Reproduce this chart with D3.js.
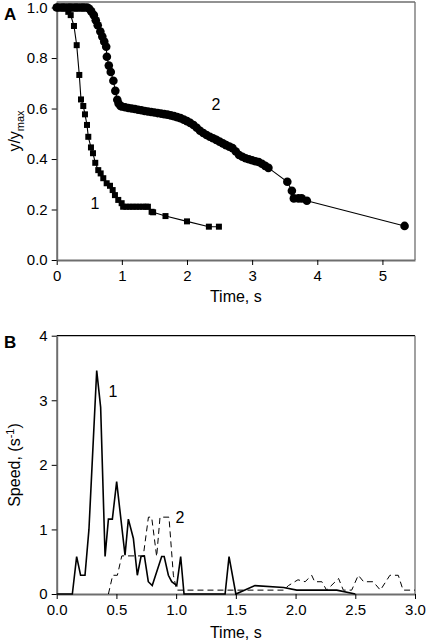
<!DOCTYPE html>
<html><head><meta charset="utf-8">
<script src="https://cdn.jsdelivr.net/npm/d3@7"></script>
<style>
html,body{margin:0;padding:0;background:#fff;}
svg{display:block;font-family:"Liberation Sans",Arial,sans-serif;}
</style></head><body>
<svg id="c" width="427" height="642"></svg>
<script>
// ---------- Panel A data ----------
const a1Time = [0,0.03,0.07,0.10,0.13,0.178,0.215,0.265,0.307,0.347,0.373,0.408,0.434,0.465,0.485,0.526,0.557,0.592,0.638,0.675,0.715,0.767,0.818,0.859,0.894,0.945,0.997,1.02,1.07,1.12,1.17,1.22,1.27,1.32,1.37,1.40,1.457,1.48,1.67,2.0,2.336,2.49];
const a1Val  = [1,1,1,1,1,0.983,0.97,0.927,0.851,0.733,0.636,0.610,0.577,0.535,0.488,0.446,0.423,0.385,0.356,0.343,0.324,0.304,0.294,0.277,0.257,0.238,0.225,0.211,0.211,0.211,0.211,0.211,0.211,0.211,0.211,0.211,0.191,0.189,0.174,0.153,0.132,0.132];

const a2Time = [0,0.03,0.07,0.10,0.13,0.17,0.20,0.23,0.27,0.30,0.33,0.37,0.40,0.43,0.47,0.50,0.53,0.57,0.60,0.63,0.67,0.70,0.73,0.76,0.77,0.80,0.83,0.87,0.90,0.93,0.95,0.98,
  1.00,1.05,1.10,1.15,1.20,1.25,1.30,1.35,1.40,1.45,1.50,1.55,1.60,1.65,1.70,1.75,1.80,1.85,1.90,1.95,2.00,2.05,2.10,2.15,2.20,2.25,2.30,2.35,2.40,2.45,2.50,2.55,2.60,2.65,2.70,2.75,2.80,2.85,2.90,2.95,3.00,3.05,3.10,3.15,3.20,3.25,
  3.54,3.61,3.64,3.71,3.76,3.84,5.34];
const a2Val  = [1,1,1,1,1,1,1,1,1,1,1,1,1,1,1,0.995,0.985,0.97,0.95,0.93,0.905,0.885,0.865,0.845,0.805,0.77,0.745,0.71,0.67,0.635,0.62,0.61,
  0.608,0.605,0.602,0.600,0.598,0.595,0.593,0.590,0.588,0.586,0.584,0.582,0.580,0.578,0.576,0.573,0.570,0.566,0.562,0.556,0.550,0.543,0.535,0.524,0.512,0.503,0.495,0.488,0.482,0.476,0.469,0.462,0.455,0.449,0.443,0.430,0.416,0.409,0.403,0.399,0.395,0.391,0.388,0.381,0.373,0.365,
  0.310,0.274,0.244,0.244,0.244,0.235,0.135];

const aXTicks = [0,1,2,3,4,5];
const aYTicks = [0,0.2,0.4,0.6,0.8,1.0];

// ---------- Panel B data ----------
const b1Time = [0,0.131,0.167,0.20,0.237,0.27,0.335,0.368,0.405,0.433,0.466,0.502,0.572,0.60,0.642,0.675,0.706,0.734,0.767,0.80,0.879,0.90,0.935,0.963,1.005,1.038,1.066,1.41,1.443,1.50,1.66,1.90,2.01,2.345,2.50];
const b1Val  = [0,0,0.58,0.29,0.29,1.0,3.46,2.89,0.58,1.16,1.16,1.74,0.60,1.16,0.86,0.29,0.58,0.59,0.19,0.13,0.58,0.58,0.29,0.19,0.13,0.58,0,0,0.58,0,0.13,0.10,0.06,0.06,0];

const b2Time = [0.433,0.469,0.508,0.545,0.725,0.768,0.795,0.837,0.865,0.94,0.977,1.005,1.90,1.94,2.02,2.08,2.135,2.16,2.22,2.26,2.36,2.40,2.47,2.525,2.57,2.65,2.71,2.79,2.86,2.90,3.0];
const b2Val  = [0,0.29,0.29,0.59,0.59,1.19,1.19,0.58,1.19,1.19,0.29,0.06,0.06,0.13,0.22,0.19,0.29,0.19,0.19,0.06,0.24,0.06,0.06,0.29,0.19,0.19,0.06,0.29,0.29,0.06,0.06];

const bXTicks = [0,0.5,1.0,1.5,2.0,2.5,3.0];
const bYTicks = [0,1,2,3,4];

// ---------- drawing ----------
const svg = d3.select("#c");
const L = 56.7, R = 415;
const axisCol = "#6e6e6e";

function styleAxis(g){
  g.selectAll("text").attr("font-size",15).attr("fill","#000").attr("font-family","Liberation Sans, Arial, sans-serif");
  g.selectAll("line").attr("stroke","#000");
  g.select(".domain").attr("stroke",axisCol).attr("stroke-width",2);
}

// Panel A
const xA = d3.scaleLinear().domain([0,5.5]).range([L,R]);
const yA = d3.scaleLinear().domain([0,1.022]).range([260,2]);

const gA = svg.append("g");
gA.append("line").attr("x1",L).attr("x2",R).attr("y1",yA(1.022)).attr("y2",yA(1.022)).attr("stroke",axisCol).attr("stroke-width",1.3);
gA.append("line").attr("x1",R).attr("x2",R).attr("y1",yA(1.022)).attr("y2",yA(0)).attr("stroke",axisCol).attr("stroke-width",1.3);

gA.append("g").attr("transform",`translate(0,${yA(0)})`)
  .call(d3.axisBottom(xA).tickValues(aXTicks).tickFormat(d3.format("d")).tickSize(5).tickPadding(5).tickSizeOuter(0))
  .call(styleAxis);
gA.append("g").attr("transform",`translate(${L},0)`)
  .call(d3.axisLeft(yA).tickValues(aYTicks).tickFormat(d3.format(".1f")).tickSize(5).tickPadding(4).tickSizeOuter(0))
  .call(styleAxis);

const a1 = a1Time.map((t,i)=>[t,a1Val[i]]);
const a2 = a2Time.map((t,i)=>[t,a2Val[i]]);
const lineA = d3.line().x(d=>xA(d[0])).y(d=>yA(d[1]));
gA.append("path").attr("d",lineA(a1)).attr("fill","none").attr("stroke","#000").attr("stroke-width",1.1);
gA.append("path").attr("d",lineA(a2)).attr("fill","none").attr("stroke","#000").attr("stroke-width",1.1);
gA.selectAll("rect.s1").data(a1).join("rect").attr("class","s1")
  .attr("x",d=>xA(d[0])-3).attr("y",d=>yA(d[1])-3).attr("width",6).attr("height",6).attr("fill","#000");
gA.selectAll("circle.s2").data(a2).join("circle").attr("class","s2")
  .attr("cx",d=>xA(d[0])).attr("cy",d=>yA(d[1])).attr("r",4.3).attr("fill","#000");

gA.append("text").attr("x",4).attr("y",20).attr("font-size",17).attr("font-weight","bold").text("A");
gA.append("text").attr("x",(L+R)/2).attr("y",302).attr("text-anchor","middle").attr("font-size",16).text("Time, s");
const yl = gA.append("text").attr("transform","translate(20,131) rotate(-90)").attr("text-anchor","middle").attr("font-size",16);
yl.append("tspan").text("y/y");
yl.append("tspan").attr("font-size",11).attr("dy",4).text("max");
gA.append("text").attr("x",95).attr("y",209).attr("text-anchor","middle").attr("font-size",16).text("1");
gA.append("text").attr("x",216).attr("y",110).attr("text-anchor","middle").attr("font-size",16).text("2");

// Panel B
const xB = d3.scaleLinear().domain([0,3]).range([L,R]);
const yB = d3.scaleLinear().domain([0,4]).range([594,335.7]);
const gB = svg.append("g");
gB.append("line").attr("x1",L).attr("x2",R).attr("y1",yB(4)).attr("y2",yB(4)).attr("stroke","#000").attr("stroke-width",1.3);
gB.append("line").attr("x1",R).attr("x2",R).attr("y1",yB(4)).attr("y2",yB(0)).attr("stroke",axisCol).attr("stroke-width",1.3);

gB.append("g").attr("transform",`translate(0,${yB(0)})`)
  .call(d3.axisBottom(xB).tickValues(bXTicks).tickFormat(d3.format(".1f")).tickSize(5).tickPadding(5).tickSizeOuter(0))
  .call(styleAxis);
gB.append("g").attr("transform",`translate(${L},0)`)
  .call(d3.axisLeft(yB).tickValues(bYTicks).tickFormat(d3.format("d")).tickSize(5).tickPadding(4).tickSizeOuter(0))
  .call(styleAxis);

const b1 = b1Time.map((t,i)=>[t,b1Val[i]]);
const b2 = b2Time.map((t,i)=>[t,b2Val[i]]);
const lineB = d3.line().x(d=>xB(d[0])).y(d=>yB(d[1]));
gB.append("path").attr("d",lineB(b2)).attr("fill","none").attr("stroke","#000").attr("stroke-width",1).attr("stroke-dasharray","6,4");
gB.append("path").attr("d",lineB(b1)).attr("fill","none").attr("stroke","#000").attr("stroke-width",1.6).attr("stroke-linejoin","miter");

gB.append("text").attr("x",4).attr("y",348).attr("font-size",17).attr("font-weight","bold").text("B");
gB.append("text").attr("x",(L+R)/2).attr("y",638).attr("text-anchor","middle").attr("font-size",16).text("Time, s");
const yl2 = gB.append("text").attr("transform","translate(20,465) rotate(-90)").attr("text-anchor","middle").attr("font-size",16);
yl2.append("tspan").text("Speed, (s");
yl2.append("tspan").attr("font-size",11).attr("dy",-6).text("-1");
yl2.append("tspan").attr("dy",6).text(")");
gB.append("text").attr("x",113).attr("y",397).attr("text-anchor","middle").attr("font-size",16).text("1");
gB.append("text").attr("x",180).attr("y",523).attr("text-anchor","middle").attr("font-size",16).text("2");
</script>
</body></html>
